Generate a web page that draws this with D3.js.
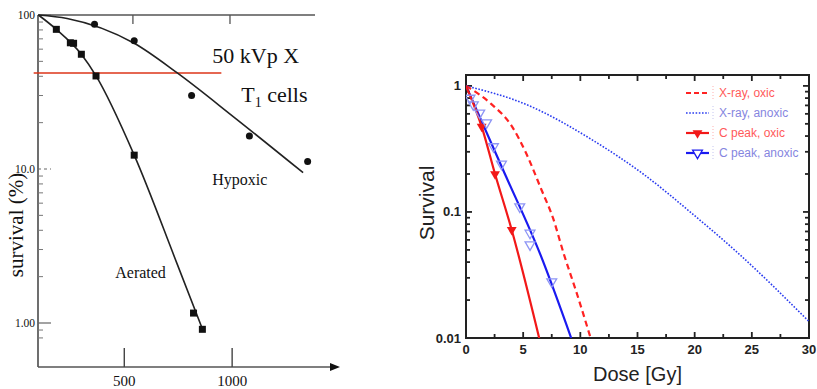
<!DOCTYPE html>
<meta charset="utf-8">
<title>Survival curves</title>
<style>
body { margin: 0; background: #fff; }
svg { display: block; }
.serif { font-family: "Liberation Serif", "Times New Roman", serif; fill: #111; }
.sans { font-family: "Liberation Sans", Arial, sans-serif; fill: #222; }
</style>
<svg width="817" height="389"></svg>
<script src="https://cdnjs.cloudflare.com/ajax/libs/d3/7.8.5/d3.min.js"></script>
<script>

// ---------- left panel data (dose in rad, survival in %) ----------
var leftTickLabels = [{v: 100, t: "100"}, {v: 10, t: "10.0"}, {v: 1, t: "1.00"}];
var leftXTicks = [500, 1000];
var leftTopTicks = [540, 990];

var aeratedCurve = [[102,100],[185,80.7],[301,55.6],[369,40.2],[546,12.3],[744,2.44],[867,0.88]];
var aeratedPts   = [[185,80.7],[250,66],[265,65.5],[301,55.6],[369,40.2],[546,12.3],[821,1.16],[862,0.91]];
var hypoxicCurve = [[102,100],[235,95],[546,65.5],[744,42.2],[1005,21.9],[1329,9.46]];
var hypoxicPts   = [[362,87],[546,68],[812,30],[1080,16.4],[1350,11.2]];
var redLine      = [[80,42],[950,42]];

// ---------- right panel data (dose in Gy, survival fraction) ----------
var rightXTicks = [0,5,10,15,20,25,30];
var rightYTicks = [{v: 1, t: "1"}, {v: 0.1, t: "0.1"}, {v: 0.01, t: "0.01"}];

var xrayOxic    = [[0,1],[2.2,0.72],[4,0.48],[5.2,0.3],[6.6,0.15],[7.6,0.09],[8.6,0.045],[9.6,0.024],[10.9,0.01]];
var xrayAnoxic  = [[0,1],[5.3,0.71],[11.1,0.37],[15.5,0.2],[19.9,0.095],[23.7,0.048],[30,0.0135]];
var cOxicLine   = [[0,1],[1.37,0.475],[2.54,0.2],[4,0.072],[6.4,0.01]];
var cOxicPts    = [[1.37,0.475],[2.54,0.2],[4,0.072]];
var cAnoxLine   = [[0,1],[3.2,0.22],[6.5,0.046],[9.2,0.01]];
var cAnoxPts    = [[0.35,0.8],[0.64,0.71],[1.2,0.61],[1.8,0.51],[2.4,0.33],[3.1,0.24],[4.7,0.11],[5.6,0.068],[5.6,0.055],[7.5,0.028]];

var legendLabels = ["X-ray, oxic", "X-ray, anoxic", "C peak, oxic", "C peak, anoxic"];

var svg = d3.select("svg");

// =================== LEFT PANEL ===================
var xL = d3.scaleLinear().domain([100, 1500]).range([38, 340]);
var yL = d3.scaleLog().domain([1, 100]).range([323, 15]);
var axisBottomY = 367;

var gl = svg.append("g");

// axes lines
gl.append("line").attr("x1", xL(100)).attr("x2", xL(100)).attr("y1", yL(100)).attr("y2", axisBottomY)
  .attr("stroke", "#555").attr("stroke-width", 1.7);
gl.append("line").attr("x1", xL(100)).attr("x2", 315).attr("y1", yL(100)).attr("y2", yL(100))
  .attr("stroke", "#555").attr("stroke-width", 1.7);
gl.append("line").attr("x1", xL(100)).attr("x2", xL(1500) - 8).attr("y1", axisBottomY).attr("y2", axisBottomY)
  .attr("stroke", "#555").attr("stroke-width", 1.7);
gl.append("path")
  .attr("d", "M" + (xL(1500) - 10) + "," + (axisBottomY - 4) + "L" + xL(1500) + "," + axisBottomY + "L" + (xL(1500) - 10) + "," + (axisBottomY + 4) + "Z")
  .attr("fill", "#111");

// bottom ticks + labels
gl.selectAll(".xtick").data(leftXTicks).enter().append("line")
  .attr("x1", xL).attr("x2", xL).attr("y1", axisBottomY).attr("y2", axisBottomY - 19)
  .attr("stroke", "#444").attr("stroke-width", 1.4);
gl.selectAll(".xlab").data(leftXTicks).enter().append("text")
  .attr("class", "serif").attr("x", xL).attr("y", 386)
  .attr("text-anchor", "middle").attr("font-size", 15).text(function(d) { return d; });
gl.selectAll(".ttick").data(leftTopTicks).enter().append("line")
  .attr("x1", xL).attr("x2", xL).attr("y1", yL(100)).attr("y2", yL(100) + 9)
  .attr("stroke", "#555").attr("stroke-width", 1.3);

// y ticks
var minorL = [];
[1, 10].forEach(function(dec) { for (var k = 2; k <= 9; k++) minorL.push(dec * k); });
[0.8, 0.9].forEach(function(v) { minorL.push(v); });
gl.selectAll(".ymin").data(minorL).enter().append("line")
  .attr("x1", xL(100)).attr("x2", xL(100) + 5).attr("y1", yL).attr("y2", yL)
  .attr("stroke", "#777").attr("stroke-width", 1);
gl.selectAll(".ymaj").data(leftTickLabels).enter().append("line")
  .attr("x1", xL(100)).attr("x2", xL(100) + 13)
  .attr("y1", function(d) { return yL(d.v); }).attr("y2", function(d) { return yL(d.v); })
  .attr("stroke", "#666").attr("stroke-width", 1.2)
  .attr("stroke-dasharray", function(d) { return d.v == 10 ? "3,3" : null; });
gl.selectAll(".ylab").data(leftTickLabels).enter().append("text")
  .attr("class", "serif").attr("x", 35).attr("y", function(d) { return yL(d.v); })
  .attr("dy", "0.35em").attr("text-anchor", "end").attr("font-size", 11.5)
  .text(function(d) { return d.t; });

gl.append("text").attr("class", "serif")
  .attr("transform", "translate(23,225) rotate(-90)")
  .attr("text-anchor", "middle").attr("font-size", 21).text("survival (%)");

// red reference line
var lineL = d3.line().x(function(d) { return xL(d[0]); }).y(function(d) { return yL(d[1]); });
var curveL = d3.line().curve(d3.curveMonotoneX).x(function(d) { return xL(d[0]); }).y(function(d) { return yL(d[1]); });

gl.append("path").attr("d", lineL(redLine)).attr("stroke", "#dc3418").attr("stroke-width", 1.5).attr("fill", "none");

gl.append("path").attr("d", curveL(hypoxicCurve)).attr("stroke", "#222").attr("stroke-width", 1.6).attr("fill", "none");
gl.append("path").attr("d", curveL(aeratedCurve)).attr("stroke", "#222").attr("stroke-width", 1.6).attr("fill", "none");

gl.selectAll(".apt").data(aeratedPts).enter().append("rect")
  .attr("x", function(d) { return xL(d[0]) - 3.5; }).attr("y", function(d) { return yL(d[1]) - 3.5; })
  .attr("width", 7).attr("height", 7).attr("fill", "#111");
gl.selectAll(".hpt").data(hypoxicPts).enter().append("circle")
  .attr("cx", function(d) { return xL(d[0]); }).attr("cy", function(d) { return yL(d[1]); })
  .attr("r", 3.5).attr("fill", "#111");

// annotations (placed in data coordinates)
var notes = [
  {x: 908, y: 48.7, t: "50 kVp X", s: 22},
  {x: 908, y: 7.87, t: "Hypoxic", s: 16},
  {x: 458, y: 1.96, t: "Aerated", s: 16}
];
gl.selectAll(".note").data(notes).enter().append("text")
  .attr("class", "serif").attr("x", function(d) { return xL(d.x); }).attr("y", function(d) { return yL(d.y); })
  .attr("font-size", function(d) { return d.s; }).text(function(d) { return d.t; });
var t1 = gl.append("text").attr("class", "serif").attr("x", xL(1042)).attr("y", yL(27.2)).attr("font-size", 22);
t1.append("tspan").text("T");
t1.append("tspan").attr("font-size", 14).attr("dy", 5).text("1");
t1.append("tspan").attr("dy", -5).text(" cells");

// =================== RIGHT PANEL ===================
var xR = d3.scaleLinear().domain([0, 30]).range([466, 809]);
var yR = d3.scaleLog().domain([0.01, 1.22]).range([338, 75]);

var gr = svg.append("g");
var clipId = "clipR";
gr.append("clipPath").attr("id", clipId).append("rect")
  .attr("x", xR(0)).attr("y", yR(1.22)).attr("width", xR(30) - xR(0)).attr("height", yR(0.01) - yR(1.22));

// ticks
var xMinor = d3.range(0, 30.01, 2.5);
var yMinorR = [];
[0.01, 0.1, 1].forEach(function(dec) { for (var k = 1; k <= 9; k++) { var v = dec * k; if (v <= 1.22) yMinorR.push(v); } });
function isMajor(d) { return [0.01,0.1,1].indexOf(+d.toFixed(3)) >= 0; }

gr.selectAll(".bt").data(xMinor).enter().append("line")
  .attr("x1", xR).attr("x2", xR).attr("y1", yR(0.01)).attr("y2", function(d) { return yR(0.01) - (d % 5 == 0 ? 6 : 4); })
  .attr("stroke", "#222").attr("stroke-width", 1.8);
gr.selectAll(".tt").data(xMinor).enter().append("line")
  .attr("x1", xR).attr("x2", xR).attr("y1", yR(1.22)).attr("y2", function(d) { return yR(1.22) + (d % 5 == 0 ? 6 : 4); })
  .attr("stroke", "#222").attr("stroke-width", 1.8);
gr.selectAll(".lt").data(yMinorR).enter().append("line")
  .attr("x1", xR(0)).attr("x2", function(d) { return xR(0) + (isMajor(d) ? 6 : 4); })
  .attr("y1", yR).attr("y2", yR).attr("stroke", "#222").attr("stroke-width", 1.8);
gr.selectAll(".rt").data(yMinorR).enter().append("line")
  .attr("x1", xR(30)).attr("x2", function(d) { return xR(30) - (isMajor(d) ? 6 : 4); })
  .attr("y1", yR).attr("y2", yR).attr("stroke", "#222").attr("stroke-width", 1.8);

gr.append("rect").attr("x", xR(0)).attr("y", yR(1.22))
  .attr("width", xR(30) - xR(0)).attr("height", yR(0.01) - yR(1.22))
  .attr("fill", "none").attr("stroke", "#222").attr("stroke-width", 2);

gr.selectAll(".xl").data(rightXTicks).enter().append("text")
  .attr("class", "sans").attr("x", xR).attr("y", 354)
  .attr("text-anchor", "middle").attr("font-size", 13).attr("font-weight", "bold")
  .text(function(d) { return d; });
gr.selectAll(".yl").data(rightYTicks).enter().append("text")
  .attr("class", "sans").attr("x", 461).attr("y", function(d) { return yR(d.v); }).attr("dy", "0.35em")
  .attr("text-anchor", "end").attr("font-size", 13).attr("font-weight", "bold")
  .text(function(d) { return d.t; });

gr.append("text").attr("class", "sans").attr("x", (xR(0) + xR(30)) / 2).attr("y", 381)
  .attr("text-anchor", "middle").attr("font-size", 20).text("Dose [Gy]");
gr.append("text").attr("class", "sans").attr("transform", "translate(434,203) rotate(-90)")
  .attr("text-anchor", "middle").attr("font-size", 21).text("Survival");

// curves
var curveR = d3.line().curve(d3.curveMonotoneX).x(function(d) { return xR(d[0]); }).y(function(d) { return yR(d[1]); });
var plot = gr.append("g").attr("clip-path", "url(#" + clipId + ")");

plot.append("path").attr("d", curveR(xrayAnoxic)).attr("fill", "none")
  .attr("stroke", "#2a3cf0").attr("stroke-width", 1.6).attr("stroke-dasharray", "1.6,1.6");
plot.append("path").attr("d", curveR(xrayOxic)).attr("fill", "none")
  .attr("stroke", "#f22").attr("stroke-width", 2.2).attr("stroke-dasharray", "6,4");
plot.append("path").attr("d", curveR(cAnoxLine)).attr("fill", "none")
  .attr("stroke", "#1a1af0").attr("stroke-width", 2.2);
plot.append("path").attr("d", curveR(cOxicLine)).attr("fill", "none")
  .attr("stroke", "#f21818").attr("stroke-width", 2.2);

var tri = d3.symbol().type(d3.symbolTriangle).size(42);
plot.selectAll(".co").data(cOxicPts).enter().append("path")
  .attr("d", tri).attr("transform", function(d) { return "translate(" + xR(d[0]) + "," + yR(d[1]) + ") rotate(180)"; })
  .attr("fill", "#f21818");
plot.selectAll(".ca").data(cAnoxPts).enter().append("path")
  .attr("d", tri).attr("transform", function(d) { return "translate(" + xR(d[0]) + "," + yR(d[1]) + ") rotate(180)"; })
  .attr("fill", "none").attr("stroke", "#8d95f5").attr("stroke-width", 1.3);

// legend
var legColors = ["#ff5a5a", "#8585e0", "#ff5a5a", "#8585e0"];
var leg = gr.selectAll(".leg").data(legendLabels).enter().append("g")
  .attr("transform", function(d, i) { return "translate(686," + (93 + i * 20) + ")"; });
leg.append("line").attr("x1", 0).attr("x2", 23).attr("y1", 0).attr("y2", 0)
  .attr("stroke", function(d, i) { return ["#f22", "#2a3cf0", "#f21818", "#1a1af0"][i]; })
  .attr("stroke-width", function(d, i) { return i == 1 ? 1.6 : 2.2; })
  .attr("stroke-dasharray", function(d, i) { return i == 0 ? "5,3" : i == 1 ? "1.6,1.6" : null; });
leg.filter(function(d, i) { return i >= 2; }).append("path")
  .attr("d", tri).attr("transform", "translate(11.5,0) rotate(180)")
  .attr("fill", function(d, i) { return i == 0 ? "#f21818" : "#fff"; })
  .attr("stroke", function(d, i) { return i == 0 ? "none" : "#1a1af0"; }).attr("stroke-width", 1.3);
leg.append("line").attr("x1", 27).attr("x2", 27).attr("y1", -7).attr("y2", 7)
  .attr("stroke", function(d, i) { return legColors[i]; }).attr("stroke-width", 0.8)
  .attr("stroke-dasharray", "1,2").attr("opacity", 0.6);
leg.append("text").attr("class", "sans").attr("x", 33).attr("dy", "0.35em").attr("font-size", 12)
  .style("fill", function(d, i) { return legColors[i]; }).text(function(d) { return d; });

</script>
